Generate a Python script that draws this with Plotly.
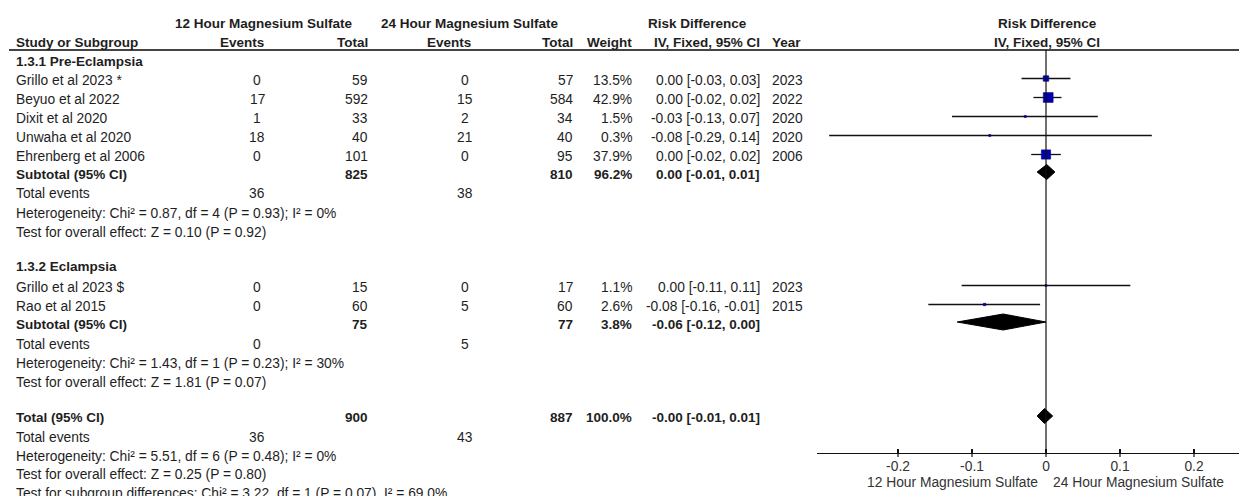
import plotly.graph_objects as go

W, H = 1239, 496

# ---------------- data ----------------
studies1 = ["Grillo et al 2023 *", "Beyuo et al 2022", "Dixit et al 2020", "Unwaha et al 2020", "Ehrenberg et al 2006"]
events12_1 = [0, 17, 1, 18, 0]
total12_1 = [59, 592, 33, 40, 101]
events24_1 = [0, 15, 2, 21, 0]
total24_1 = [57, 584, 34, 40, 95]
weight1 = [13.5, 42.9, 1.5, 0.3, 37.9]
rd1 = [0.0, 0.003, -0.028, -0.076, 0.0]
lo1 = [-0.033, -0.017, -0.127, -0.293, -0.02]
hi1 = [0.033, 0.021, 0.07, 0.143, 0.02]
year1 = [2023, 2022, 2020, 2020, 2006]
sub1 = dict(tot12=825, tot24=810, weight=96.2, rd=0.001, lo=-0.012, hi=0.012, ev12=36, ev24=38)
het1 = "Heterogeneity: Chi² = 0.87, df = 4 (P = 0.93); I² = 0%"
test1 = "Test for overall effect: Z = 0.10 (P = 0.92)"

studies2 = ["Grillo et al 2023 $", "Rao et al 2015"]
events12_2 = [0, 0]
total12_2 = [15, 60]
events24_2 = [0, 5]
total24_2 = [17, 60]
weight2 = [1.1, 2.6]
rd2 = [0.0, -0.083]
lo2 = [-0.114, -0.159]
hi2 = [0.114, -0.008]
year2 = [2023, 2015]
sub2 = dict(tot12=75, tot24=77, weight=3.8, rd=-0.058, lo=-0.12, hi=0.0, ev12=0, ev24=5)
het2 = "Heterogeneity: Chi² = 1.43, df = 1 (P = 0.23); I² = 30%"
test2 = "Test for overall effect: Z = 1.81 (P = 0.07)"

tot = dict(tot12=900, tot24=887, weight=100.0, rd=-0.002, lo=-0.012, hi=0.009, ev12=36, ev24=43)
het_all = "Heterogeneity: Chi² = 5.51, df = 6 (P = 0.48); I² = 0%"
test_all = "Test for overall effect: Z = 0.25 (P = 0.80)"
test_sub = "Test for subgroup differences: Chi² = 3.22, df = 1 (P = 0.07), I² = 69.0%"

tick_vals = [-0.2, -0.1, 0, 0.1, 0.2]
tick_text = ["-0.2", "-0.1", "0", "0.1", "0.2"]
favours_left = "12 Hour Magnesium Sulfate"
favours_right = "24 Hour Magnesium Sulfate"

# ---------------- layout helpers ----------------
FONT = "Liberation Sans, Arial, sans-serif"
TXT = "#1e1e1e"
FS = 13.8
FSB = 13.5

# row positions (pixels from top)
Y_H1, Y_H2, Y_LINE = 23, 42, 50
Y_G1 = 61
Y_S1 = [80, 99, 118, 137, 156]
Y_SUB1, Y_TE1, Y_HET1, Y_TEST1 = 174, 193, 213, 232
Y_G2 = 266
Y_S2 = [287, 306]
Y_SUB2, Y_TE2, Y_HET2, Y_TEST2 = 324, 344, 363, 382
Y_TOT, Y_TEA, Y_HETA, Y_TESTA, Y_TSUB = 417, 437, 456, 474, 493
Y_AXIS = 453

# column x positions (pixels)
X_STUDY = 15
X_EV12 = 257
X_TOT12 = 369
X_EV24 = 465
X_TOT24 = 574
X_W = 633
X_CI = 761
X_YEAR = 771

X0_PX = 1046.0     # pixel of RD = 0
PX_PER = 740.0     # pixels per unit RD
AX_LEFT = 817.0

annotations = []


def txt(x, y, s, anchor="left", bold=False, color=TXT):
    annotations.append(dict(
        x=x / W, y=y, xref="paper", yref="y", text=f"<b>{s}</b>" if bold else s,
        xanchor=anchor, yanchor="middle", showarrow=False, borderpad=0,
        font=dict(family=FONT, size=FSB if bold else FS, color=color),
    ))


def ci_str(r, l, h):
    return f"{r:.2f} [{l:.2f}, {h:.2f}]"


# header
txt(264, Y_H1, "12 Hour Magnesium Sulfate", "center", True)
txt(470, Y_H1, "24 Hour Magnesium Sulfate", "center", True)
txt(697, Y_H1, "Risk Difference", "center", True)
txt(1047, Y_H1, "Risk Difference", "center", True)
txt(X_STUDY, Y_H2, "Study or Subgroup", "left", True)
txt(242, Y_H2, "Events", "center", True)
txt(X_TOT12, Y_H2, "Total", "right", True)
txt(449, Y_H2, "Events", "center", True)
txt(X_TOT24, Y_H2, "Total", "right", True)
txt(X_W, Y_H2, "Weight", "right", True)
txt(X_CI, Y_H2, "IV, Fixed, 95% CI", "right", True)
txt(X_YEAR, Y_H2, "Year", "left", True)
txt(1047, Y_H2, "IV, Fixed, 95% CI", "center", True)


def study_rows(names, e12, t12, e24, t24, w, r, l, h, yr, ys):
    for i, y in enumerate(ys):
        txt(X_STUDY, y, names[i], "left")
        txt(X_EV12, y, str(e12[i]), "center")
        txt(X_TOT12, y, str(t12[i]), "right")
        txt(X_EV24, y, str(e24[i]), "center")
        txt(X_TOT24, y, str(t24[i]), "right")
        txt(X_W, y, f"{w[i]:.1f}%", "right")
        txt(X_CI, y, ci_str(r[i], l[i], h[i]), "right")
        txt(X_YEAR, y, str(yr[i]), "left")


def summary_rows(label, s, y_sub, y_te, y_het, y_test, het, test):
    txt(X_STUDY, y_sub, label, "left", True)
    txt(X_TOT12, y_sub, str(s["tot12"]), "right", True)
    txt(X_TOT24, y_sub, str(s["tot24"]), "right", True)
    txt(X_W, y_sub, f"{s['weight']:.1f}%", "right", True)
    txt(X_CI, y_sub, ci_str(s["rd"], s["lo"], s["hi"]), "right", True)
    txt(X_STUDY, y_te, "Total events", "left")
    txt(X_EV12, y_te, str(s["ev12"]), "center")
    txt(X_EV24, y_te, str(s["ev24"]), "center")
    txt(X_STUDY, y_het, het, "left")
    txt(X_STUDY, y_test, test, "left")


txt(X_STUDY, Y_G1, "1.3.1 Pre-Eclampsia", "left", True)
study_rows(studies1, events12_1, total12_1, events24_1, total24_1, weight1, rd1, lo1, hi1, year1, Y_S1)
summary_rows("Subtotal (95% CI)", sub1, Y_SUB1, Y_TE1, Y_HET1, Y_TEST1, het1, test1)

txt(X_STUDY, Y_G2, "1.3.2 Eclampsia", "left", True)
study_rows(studies2, events12_2, total12_2, events24_2, total24_2, weight2, rd2, lo2, hi2, year2, Y_S2)
summary_rows("Subtotal (95% CI)", sub2, Y_SUB2, Y_TE2, Y_HET2, Y_TEST2, het2, test2)

summary_rows("Total (95% CI)", tot, Y_TOT, Y_TEA, Y_HETA, Y_TESTA, het_all, test_all)
txt(X_STUDY, Y_TSUB, test_sub, "left")

# axis favour labels
txt(1039, 482, favours_left, "right", color="#333")
txt(1052, 482, favours_right, "left", color="#333")

# ---------------- forest traces ----------------
fig = go.Figure()
YOFF = -1.5

all_r = rd1 + rd2
all_l = lo1 + lo2
all_h = hi1 + hi2
all_w = weight1 + weight2
all_y = [y + YOFF for y in Y_S1 + Y_S2]

# CI lines
cx, cy = [], []
for l, h, y in zip(all_l, all_h, all_y):
    cx += [l, h, None]
    cy += [y, y, None]
fig.add_trace(go.Scatter(x=cx, y=cy, mode="lines", line=dict(color="#111", width=1.3),
                         hoverinfo="skip"))

# squares
fig.add_trace(go.Scatter(
    x=all_r, y=all_y, mode="markers",
    marker=dict(symbol="square", color="#0000B0", opacity=1,
                size=[max(2, 1.5 * w ** 0.5) for w in all_w],
                line=dict(width=0.6, color="#00008C")),
    hoverinfo="skip"))

# diamonds
for s, y, hh in [(sub1, Y_SUB1 - 2, 7.5), (sub2, Y_SUB2 - 2, 8), (tot, Y_TOT - 1, 7.5)]:
    fig.add_trace(go.Scatter(
        x=[s["lo"], s["rd"], s["hi"], s["rd"], s["lo"]],
        y=[y, y - hh, y, y + hh, y],
        mode="lines", fill="toself", fillcolor="#000", line=dict(color="#000", width=1),
        hoverinfo="skip"))

shapes = []
# header line
shapes.append(dict(type="line", xref="paper", yref="y", x0=9 / W, x1=1, y0=Y_LINE, y1=Y_LINE,
                   line=dict(color="#444", width=2)))
# zero line
shapes.append(dict(type="line", xref="x", yref="y", x0=0, x1=0, y0=Y_LINE, y1=Y_AXIS,
                   line=dict(color="#111", width=1.2)))
# lower parts of ticks
for v in tick_vals:
    shapes.append(dict(type="line", xref="x", yref="y", x0=v, x1=v, y0=Y_AXIS, y1=Y_AXIS + 4,
                       line=dict(color="#111", width=1.2)))

x_lo = (AX_LEFT - X0_PX) / PX_PER
x_hi = (W - X0_PX) / PX_PER

fig.update_layout(
    width=W, height=H,
    margin=dict(l=0, r=0, t=0, b=0),
    paper_bgcolor="white", plot_bgcolor="rgba(0,0,0,0)",
    showlegend=False, hovermode=False,
    annotations=annotations, shapes=shapes,
    xaxis=dict(domain=[AX_LEFT / W, 1], range=[x_lo, x_hi], anchor="free",
               position=(H - Y_AXIS) / H, showline=True, linecolor="#111", linewidth=1.2,
               showgrid=False, zeroline=False, tickvals=tick_vals, ticktext=tick_text,
               ticks="inside", ticklen=4, tickwidth=1.2, tickcolor="#111",
               tickfont=dict(family=FONT, size=FS, color="#333")),
    yaxis=dict(domain=[0, 1], range=[H, 0], visible=False, showgrid=False, zeroline=False),
)

fig.write_html("out.html", config={"displayModeBar": False, "staticPlot": True},
               post_script="document.body.style.margin='0';document.body.style.overflow='hidden';")
